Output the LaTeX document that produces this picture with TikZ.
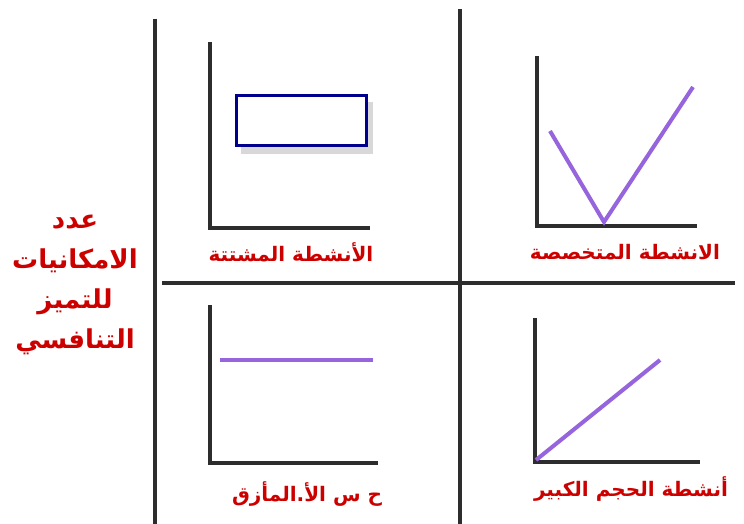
\documentclass[tikz,border=0pt]{standalone}
\usepackage{fontspec}
\TeXXeTstate=1
\newfontfamily\arabicfont[Script=Arabic]{DejaVu Sans}
\definecolor{axisgray}{RGB}{45,45,45}
\definecolor{lblred}{RGB}{205,0,0}
\definecolor{purp}{RGB}{150,100,220}
\definecolor{boxnavy}{RGB}{0,0,140}
\begin{document}
\begin{tikzpicture}[x=1pt,y=-1pt,
  frame/.style={line width=4pt, draw=axisgray},
  axis/.style={line width=4pt, draw=axisgray},
  curve/.style={line width=4pt, draw=purp},
  lbl/.style={font=\arabicfont\bfseries\fontsize{20}{24}\selectfont, text=lblred, inner sep=0pt},
  biglbl/.style={font=\arabicfont\bfseries\fontsize{26}{40}\selectfont, text=lblred, align=center, inner sep=0pt}]
\useasboundingbox (0,0) rectangle (744,524);
\fill[white] (0,0) rectangle (744,524);
% main frame
\coordinate (v1t) at (155,19); \coordinate (v1b) at (155,524);
\coordinate (v2t) at (460,9);  \coordinate (v2b) at (460,524);
\coordinate (hl) at (162,283); \coordinate (hr) at (735,283);
\draw[frame] (v1t) -- (v1b);
\draw[frame] (v2t) -- (v2b);
\draw[frame] (hl) -- (hr);
% top-left chart
\coordinate (a1t) at (210,42); \coordinate (a1o) at (210,228); \coordinate (a1r) at (370,228);
\draw[axis] (a1t) -- (a1o) -- (a1r);
\fill[black!25, opacity=0.6] (241,102) rectangle (373,154);
\node[draw=boxnavy, line width=3pt, fill=white, minimum width=130pt, minimum height=50pt, inner sep=0pt] (box) at (301,121) {};
\node[lbl] (l1) at (291,252) {\beginR الأنشطة المشتتة\endR};
% top-right chart
\coordinate (a2t) at (537,56); \coordinate (a2o) at (537,226); \coordinate (a2r) at (697,226);
\draw[axis] (a2t) -- (a2o) -- (a2r);
\coordinate (p1) at (550,131); \coordinate (p2) at (604,222); \coordinate (p3) at (693,87);
\draw[curve] (p1) -- (p2) -- (p3);
\node[lbl] (l2) at (625,252) {\beginR الانشطة المتخصصة\endR};
% bottom-left chart
\coordinate (a3t) at (210,305); \coordinate (a3o) at (210,463); \coordinate (a3r) at (378,463);
\draw[axis] (a3t) -- (a3o) -- (a3r);
\coordinate (q1) at (220,360); \coordinate (q2) at (373,360);
\draw[curve] (q1) -- (q2);
\node[lbl] (l3) at (307,494) {\beginR ح س الأ.المأزق\endR};
% bottom-right chart
\coordinate (a4t) at (535,318); \coordinate (a4o) at (535,462); \coordinate (a4r) at (700,462);
\draw[axis] (a4t) -- (a4o) -- (a4r);
\coordinate (r1) at (536,460); \coordinate (r2) at (660,360);
\draw[curve] (r1) -- (r2);
\node[lbl] (l4) at (631,489) {\beginR أنشطة الحجم الكبير\endR};
% left label
\node[biglbl] (yl) at (75,285) {\beginR عدد\endR\\ \beginR الامكانيات\endR\\ \beginR للتميز\endR\\ \beginR التنافسي\endR};
\end{tikzpicture}
\end{document}
